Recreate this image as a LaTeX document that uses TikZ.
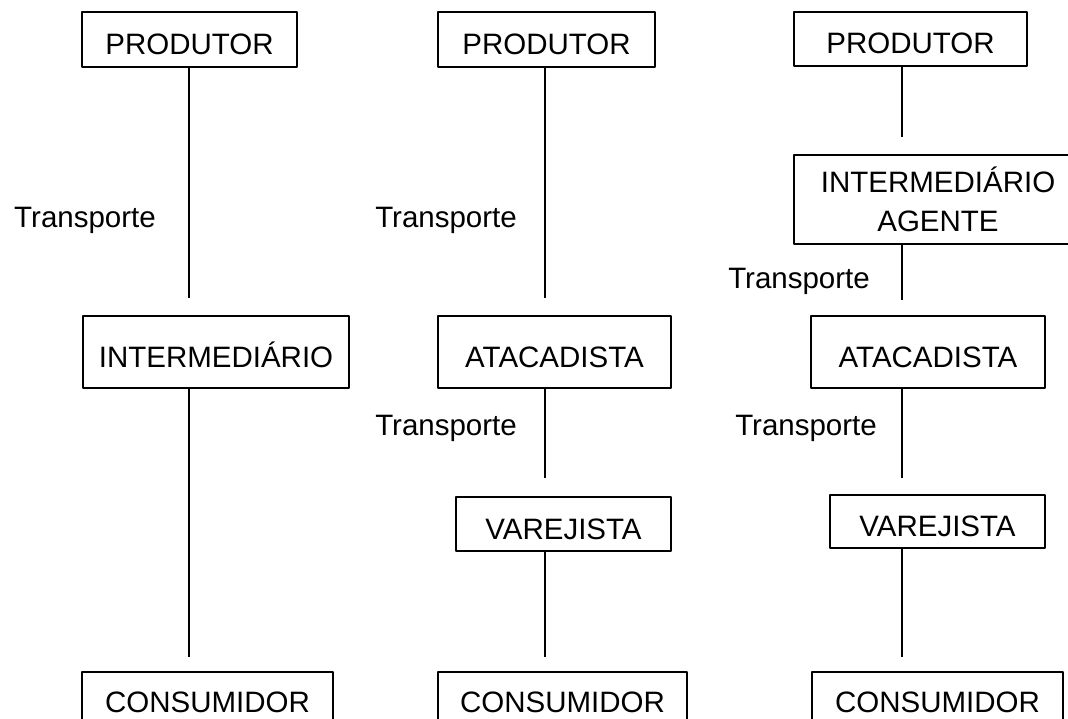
\documentclass[tikz,border=0pt]{standalone}
\usepackage{fontspec}
\setmainfont{Liberation Sans}
\begin{document}
\begin{tikzpicture}[x=1pt, y=-1pt, line join=round,
	font=\fontsize{29.5}{39}\selectfont,
	borda/.style={draw, line width=2pt, inner sep=0pt},
	caixa/.style={borda, text height=30pt, text depth=0pt},
	linha/.style={line width=1.6pt},
	rotulo/.style={anchor=base east, inner sep=0pt}]
	\clip (0,0) rectangle (1068,719);
	\path 
	(189,298) coordinate (a1)
	(189,657) coordinate (b1)
	(545,298) coordinate (a2)
	(545,478) coordinate (b2)
	(545,657) coordinate (c2)
	(902,137) coordinate (a3)
	(902,300) coordinate (b3)
	(902,478) coordinate (c3)
	(902,657) coordinate (d3)
	;
	% coluna 1
	\node[caixa, minimum width=215pt, minimum height=55pt] (prod1) at (189.5,39.5) {PRODUTOR};
	\node[caixa, minimum width=266pt, minimum height=72pt] (inter1) at (216,352) {INTERMEDIÁRIO};
	\node[caixa, minimum width=251pt, minimum height=50pt] (cons1) at (207.5,697) {CONSUMIDOR};
	\draw[linha] (prod1.south -| a1)--(a1);
	\draw[linha] (inter1.south -| b1)--(b1);
	\node[rotulo] (t1) at (156,228) {Transporte};
	% coluna 2
	\node[caixa, minimum width=217pt, minimum height=55pt] (prod2) at (546.5,39.5) {PRODUTOR};
	\node[caixa, minimum width=233pt, minimum height=72pt] (atac2) at (554.5,352) {ATACADISTA};
	\node[caixa, minimum width=215pt, minimum height=54pt] (var2) at (563.5,524) {VAREJISTA};
	\node[caixa, minimum width=249pt, minimum height=50pt] (cons2) at (562.5,697) {CONSUMIDOR};
	\draw[linha] (prod2.south -| a2)--(a2);
	\draw[linha] (atac2.south -| b2)--(b2);
	\draw[linha] (var2.south -| c2)--(c2);
	\node[rotulo] (t2) at (517,228) {Transporte};
	\node[rotulo] (t3) at (517,435) {Transporte};
	% coluna 3
	\node[caixa, minimum width=233pt, minimum height=54pt] (prod3) at (910.5,39) {PRODUTOR};
	\node[borda, align=center, minimum width=288pt, minimum height=89pt] (agente3) at (938,199.5) {INTERMEDIÁRIO\\AGENTE};
	\node[caixa, minimum width=234pt, minimum height=72pt] (atac3) at (928,352) {ATACADISTA};
	\node[caixa, minimum width=215pt, minimum height=53pt] (var3) at (937.5,521.5) {VAREJISTA};
	\node[caixa, minimum width=251pt, minimum height=50pt] (cons3) at (937.5,697) {CONSUMIDOR};
	\draw[linha] (prod3.south -| a3)--(a3);
	\draw[linha] (agente3.south -| b3)--(b3);
	\draw[linha] (atac3.south -| c3)--(c3);
	\draw[linha] (var3.south -| d3)--(d3);
	\node[rotulo] (t4) at (870,289) {Transporte};
	\node[rotulo] (t5) at (877,435) {Transporte};
\end{tikzpicture}
\end{document}
